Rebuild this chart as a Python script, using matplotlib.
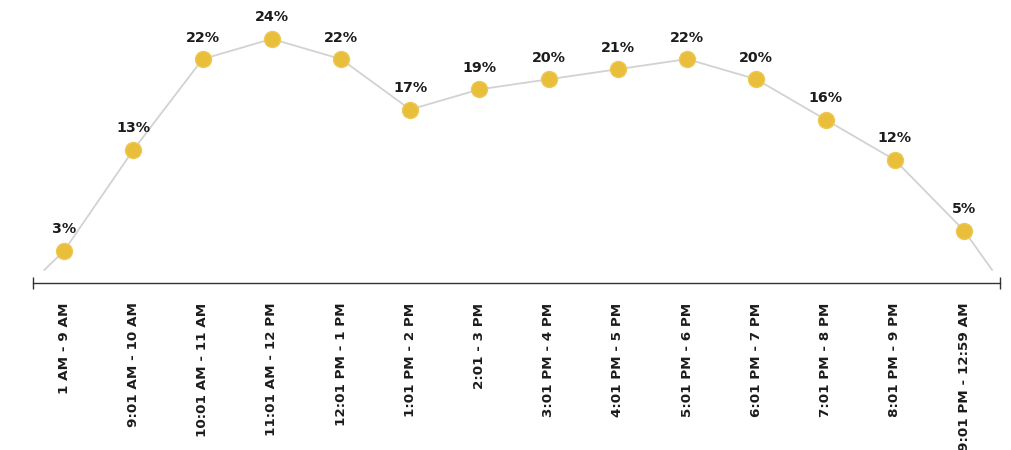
import matplotlib
matplotlib.use("Agg")
import matplotlib.pyplot as plt
import numpy as np

categories = ["1 AM - 9 AM", "9:01 AM - 10 AM", "10:01 AM - 11 AM", "11:01 AM - 12 PM",
              "12:01 PM - 1 PM", "1:01 PM - 2 PM", "2:01 - 3 PM", "3:01 PM - 4 PM",
              "4:01 PM - 5 PM", "5:01 PM - 6 PM", "6:01 PM - 7 PM", "7:01 PM - 8 PM",
              "8:01 PM - 9 PM", "9:01 PM - 12:59 AM"]
share = [3, 13, 22, 24, 22, 17, 19, 20, 21, 22, 20, 16, 12, 5]

plt.rcParams['font.family'] = ['DejaVu Sans']
fig = plt.figure(figsize=(10.12, 4.5), dpi=100)
ax = fig.add_axes([33/1012, 167/450, 967/1012, 283/450])

x = np.arange(len(categories))
x_lo, x_hi = -0.45, len(categories) - 1 + 0.52
ax.set_xlim(x_lo, x_hi)
ax.set_ylim(-0.2, 27.86)

line_col = "#d2d2d2"
ax.plot(x, share, color=line_col, lw=1.3, zorder=2)
# tail segments heading to the axis ends, stopping a little above the baseline
stop = 1.1
for (x0, y0), xe in [((x[0], share[0]), x_lo), ((x[-1], share[-1]), x_hi)]:
    t = (y0 - stop) / y0
    ax.plot([x0, x0 + (xe - x0) * t], [y0, stop], color=line_col, lw=1.3, zorder=2)

ax.plot(x, share, ls='none', marker='o', ms=11.5, mfc="#E9BE3B", mec="#EDC856",
        mew=1, zorder=3)
for xi, v in zip(x, share):
    ax.annotate(f"{v}%", (xi, v), xytext=(0, 10.5), textcoords="offset points",
                ha="center", va="bottom", fontsize=10.3, fontweight="bold", color="#1c1c1c")

for s in ["top", "right", "left"]:
    ax.spines[s].set_visible(False)
ax.spines["bottom"].set_color("#333333")
ax.spines["bottom"].set_linewidth(1.0)
ax.plot([0, 1], [0, 0], transform=ax.transAxes, ls='none', marker='|', ms=8,
        mew=1.0, color="#333333", clip_on=False, zorder=4)

ax.set_yticks([])
ax.set_xticks(x)
ax.set_xticklabels(categories, rotation=90, fontsize=9.7, fontweight="bold", color="#1c1c1c")
ax.tick_params(axis="x", length=0, pad=14)

fig.savefig("out.png", dpi=100)
